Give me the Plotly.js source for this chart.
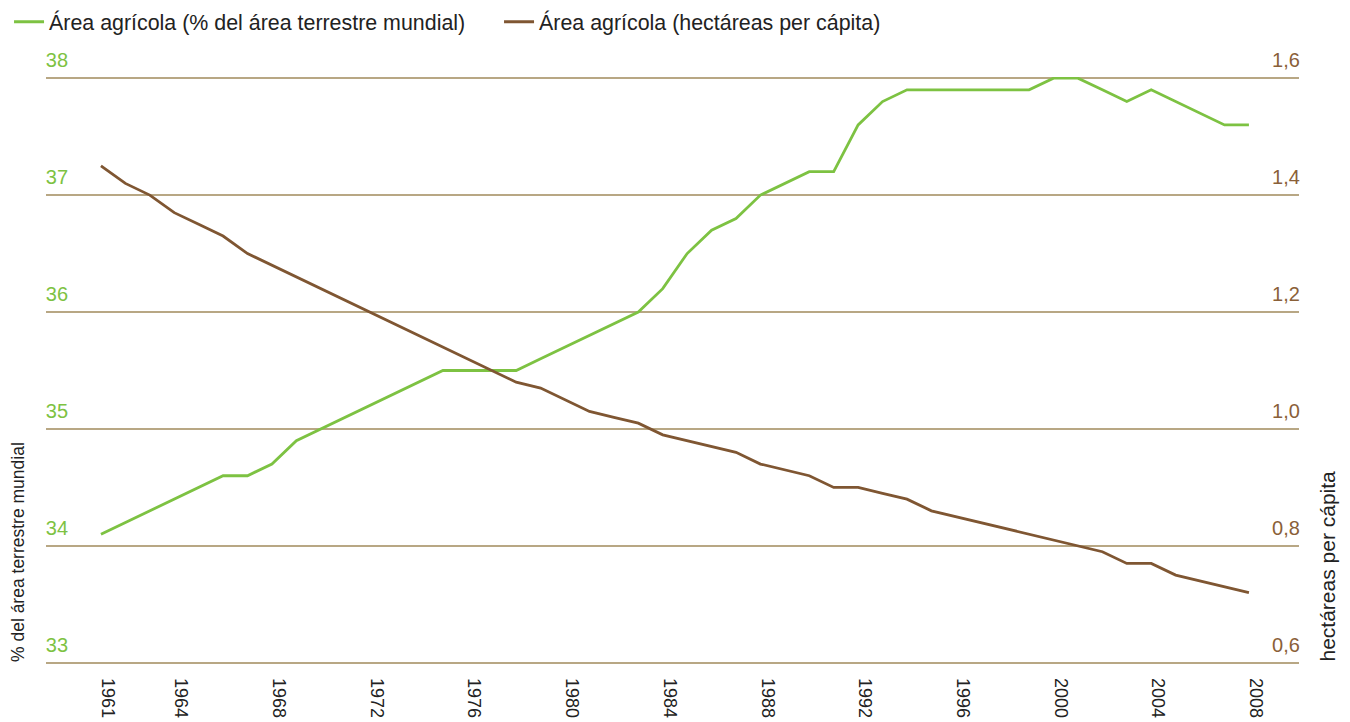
<!DOCTYPE html>
<html>
<head>
<meta charset="utf-8">
<script src="https://cdn.plot.ly/plotly-3.0.1.min.js"></script>
<style>html,body{margin:0;padding:0;background:#fff;}#chart{width:1350px;height:722px;}</style>
</head>
<body>
<div id="chart"></div>
<script>
const years = [1961,1962,1963,1964,1965,1966,1967,1968,1969,1970,1971,1972,1973,1974,1975,1976,1977,1978,1979,1980,1981,1982,1983,1984,1985,1986,1987,1988,1989,1990,1991,1992,1993,1994,1995,1996,1997,1998,1999,2000,2001,2002,2003,2004,2005,2006,2007,2008];
const areaPct = [34.1,34.2,34.3,34.4,34.5,34.6,34.6,34.7,34.9,35.0,35.1,35.2,35.3,35.4,35.5,35.5,35.5,35.5,35.6,35.7,35.8,35.9,36.0,36.2,36.5,36.7,36.8,37.0,37.1,37.2,37.2,37.6,37.8,37.9,37.9,37.9,37.9,37.9,37.9,38.0,38.0,37.9,37.8,37.9,37.8,37.7,37.6,37.6];
const haPerCapita = [1.45,1.42,1.40,1.37,1.35,1.33,1.30,1.28,1.26,1.24,1.22,1.20,1.18,1.16,1.14,1.12,1.10,1.08,1.07,1.05,1.03,1.02,1.01,0.99,0.98,0.97,0.96,0.94,0.93,0.92,0.90,0.90,0.89,0.88,0.86,0.85,0.84,0.83,0.82,0.81,0.80,0.79,0.77,0.77,0.75,0.74,0.73,0.72];
const xTickVals = [1961,1964,1968,1972,1976,1980,1984,1988,1992,1996,2000,2004,2008];
const leftTicks = [33,34,35,36,37,38];
const rightTicks = [0.6,0.8,1.0,1.2,1.4,1.6];
const seriesNames = ['Área agrícola (% del área terrestre mundial)','Área agrícola (hectáreas per cápita)'];
const leftTitle = '% del área terrestre mundial';
const rightTitle = 'hectáreas per cápita';

const GREEN = '#7dc242', BROWN = '#7f5632', GRID = '#b8a784', BROWN_TXT = '#8a6038';
const FONT = 'Liberation Sans, Arial, Helvetica, sans-serif';
const LEFT_RANGE = [32.99, 38.01], RIGHT_RANGE = [0.598, 1.602];

const traces = [
  {x: years, y: areaPct, name: seriesNames[0], type: 'scatter', mode: 'lines', yaxis: 'y',
   line: {color: GREEN, width: 2.8}},
  {x: years, y: haPerCapita, name: seriesNames[1], type: 'scatter', mode: 'lines', yaxis: 'y2',
   line: {color: BROWN, width: 2.8}},
  // empty carriers so the label-only axes are drawn
  {x: [], y: [], type: 'scatter', mode: 'lines', yaxis: 'y3', showlegend: false, hoverinfo: 'skip'},
  {x: [], y: [], type: 'scatter', mode: 'lines', yaxis: 'y4', showlegend: false, hoverinfo: 'skip'}
];

const noLine = {zeroline: false, showline: false, ticks: '', ticklen: 0, automargin: false, fixedrange: true};

const layout = {
  width: 1350, height: 722,
  margin: {l: 46, r: 51, t: 77, b: 58, pad: 0, autoexpand: false},
  paper_bgcolor: '#fff', plot_bgcolor: '#fff',
  separators: ',.',
  font: {family: FONT, color: '#222'},
  showlegend: true,
  legend: {orientation: 'h', x: -0.0295, xanchor: 'left', y: 1.094, yanchor: 'middle',
           font: {family: FONT, size: 21.4, color: '#222'}, itemwidth: 30,
           entrywidth: 445, entrywidthmode: 'pixels',
           bgcolor: 'rgba(0,0,0,0)', borderwidth: 0},
  xaxis: Object.assign({range: [1958.75, 2010.05], tickmode: 'array', tickvals: xTickVals,
          tickangle: 90, tickfont: {family: FONT, size: 18, color: '#222'},
          ticklabelshift: 7, ticklabelstandoff: 13, showgrid: false}, noLine),
  yaxis: Object.assign({range: LEFT_RANGE, tickmode: 'array', tickvals: leftTicks, showticklabels: false,
          showgrid: true, gridcolor: GRID, gridwidth: 1.5}, noLine),
  yaxis2: Object.assign({range: RIGHT_RANGE, overlaying: 'y', side: 'right', tickmode: 'array', tickvals: rightTicks,
           showticklabels: false, showgrid: false}, noLine),
  yaxis3: Object.assign({range: LEFT_RANGE, overlaying: 'y', side: 'left', anchor: 'free', position: 0.0176,
           tickmode: 'array', tickvals: leftTicks, ticklabelshift: -18, ticklabelstandoff: 0,
           tickfont: {family: FONT, size: 20, color: GREEN}, showgrid: false}, noLine),
  yaxis4: Object.assign({range: RIGHT_RANGE, overlaying: 'y', side: 'right', anchor: 'free', position: 0.9777,
           tickmode: 'array', tickvals: rightTicks, tickformat: '.1f', ticklabelshift: -18, ticklabelstandoff: 0,
           tickfont: {family: FONT, size: 20, color: BROWN_TXT}, showgrid: false}, noLine),
  annotations: [
    {text: leftTitle, xref: 'paper', yref: 'paper', x: 0, y: 0, xshift: -28, xanchor: 'center', yanchor: 'bottom',
     textangle: -90, showarrow: false, font: {family: FONT, size: 17.5, color: '#222'}},
    {text: rightTitle, xref: 'paper', yref: 'paper', x: 1, y: 0, xshift: 28, xanchor: 'center', yanchor: 'bottom',
     textangle: -90, showarrow: false, font: {family: FONT, size: 21, color: '#222'}}
  ]
};

Plotly.newPlot('chart', traces, layout, {displayModeBar: false, staticPlot: true});
</script>
</body>
</html>
